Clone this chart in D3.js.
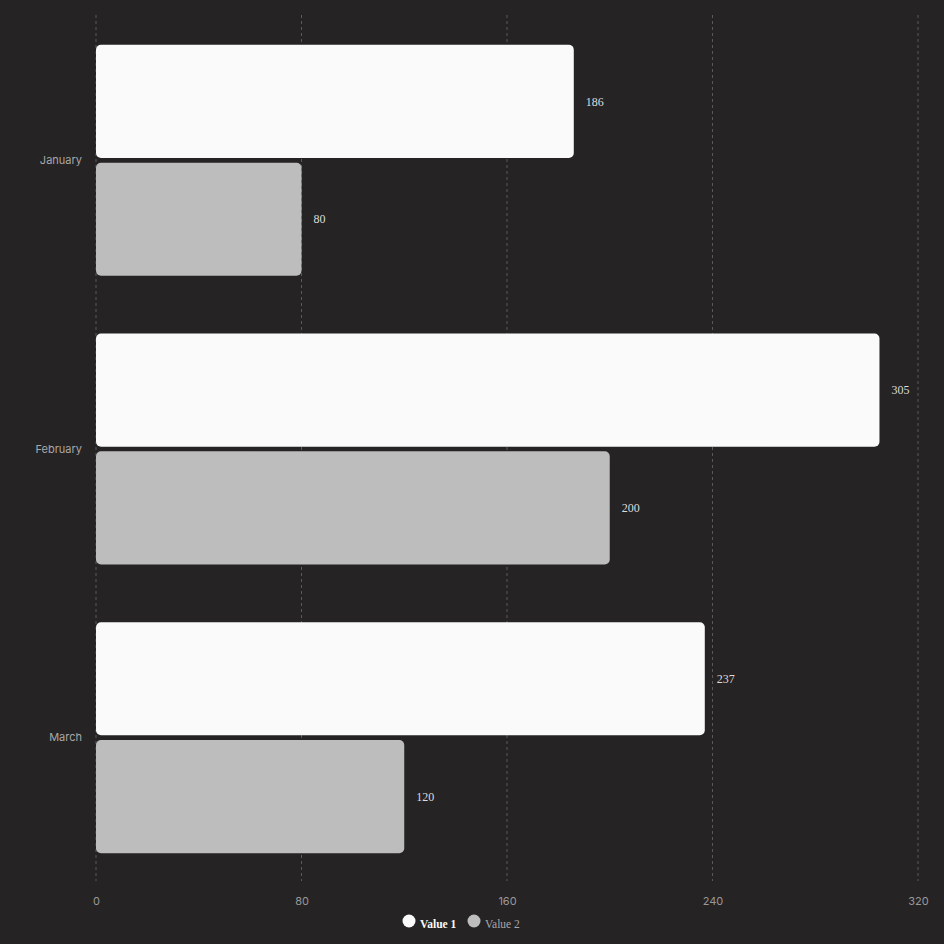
<!DOCTYPE html>
<html>
<head>
<meta charset="utf-8">
<script src="https://cdn.jsdelivr.net/npm/d3@7"></script>
<style>
  html, body { margin: 0; padding: 0; background: #252324; }
  svg { display: block; }
</style>
</head>
<body>
<svg id="chart"></svg>
<script>
// Data
const months = ["January", "February", "March"];
const seriesKeys = ["Value 1", "Value 2"];
const value1 = [186, 305, 237];
const value2 = [80, 200, 120];
const xTicks = [0, 80, 160, 240, 320];

const rows = months.map((m, i) => ({ month: m, values: [value1[i], value2[i]] }));

// Setup
const width = 944, height = 944;
const colors = ["#fafafa", "#bdbdbd"];
const svg = d3.select("svg#chart").attr("width", width).attr("height", height);

svg.append("rect").attr("width", width).attr("height", height).attr("fill", "#252324");

const x = d3.scaleLinear().domain([0, 320]).range([96, 918]);
const y = d3.scaleBand().domain(months).range([16, 882]).paddingInner(0.2).paddingOuter(0.1);
const ySub = d3.scaleBand().domain(seriesKeys).range([0, y.bandwidth()]).paddingInner(0.04);

// Grid lines
svg.append("g")
   .selectAll("line")
   .data(xTicks)
   .join("line")
   .attr("x1", d => x(d)).attr("x2", d => x(d))
   .attr("y1", 15).attr("y2", 881)
   .attr("stroke", "#5a5859")
   .attr("stroke-dasharray", "3,3");

// X axis labels
svg.append("g")
   .attr("transform", "translate(0,901)")
   .call(d3.axisBottom(x).tickValues(xTicks).tickSize(0).tickPadding(0))
   .call(g => g.select(".domain").remove())
   .selectAll("text")
   .attr("fill", "#9a9899")
   .attr("font-family", "Inter, 'Noto Sans', sans-serif")
   .attr("font-size", 11)
   .attr("dy", "0.35em");

// Y axis labels
svg.append("g")
   .attr("transform", "translate(82,0)")
   .call(d3.axisLeft(y).tickSize(0).tickPadding(0))
   .call(g => g.select(".domain").remove())
   .selectAll("text")
   .attr("fill", "#a9a7a8")
   .attr("font-family", "Inter, 'Noto Sans', sans-serif")
   .attr("font-size", 11);

// Bars
const groups = svg.append("g")
   .selectAll("g")
   .data(rows)
   .join("g")
   .attr("transform", d => `translate(0,${y(d.month)})`);

groups.selectAll("rect")
   .data(d => d.values.map((v, i) => ({ key: seriesKeys[i], value: v, i })))
   .join("rect")
   .attr("x", x(0))
   .attr("y", d => ySub(d.key))
   .attr("width", d => x(d.value) - x(0))
   .attr("height", ySub.bandwidth())
   .attr("rx", 5)
   .attr("fill", d => colors[d.i]);

groups.selectAll("text")
   .data(d => d.values.map((v, i) => ({ key: seriesKeys[i], value: v, i })))
   .join("text")
   .attr("x", d => x(d.value) + 12)
   .attr("y", d => ySub(d.key) + ySub.bandwidth() / 2)
   .attr("dy", "0.35em")
   .attr("fill", "#dddcdc")
   .attr("font-family", "'Liberation Serif', 'DejaVu Serif', serif")
   .attr("font-size", 12)
   .text(d => d.value);

// Legend
const legend = svg.append("g").attr("transform", "translate(0,921)");
const legendX = [409, 474];
seriesKeys.forEach((k, i) => {
    legend.append("circle").attr("cx", legendX[i]).attr("cy", 0).attr("r", 6.5).attr("fill", colors[i]);
    legend.append("text")
          .attr("x", legendX[i] + 11)
          .attr("y", 3)
          .attr("dy", "0.35em")
          .attr("fill", i === 0 ? "#fafafa" : "#a9a7a8")
          .attr("font-weight", i === 0 ? "bold" : "normal")
          .attr("font-family", "'Liberation Serif', 'DejaVu Serif', serif")
          .attr("font-size", 11.5)
          .text(k);
});
</script>
</body>
</html>
